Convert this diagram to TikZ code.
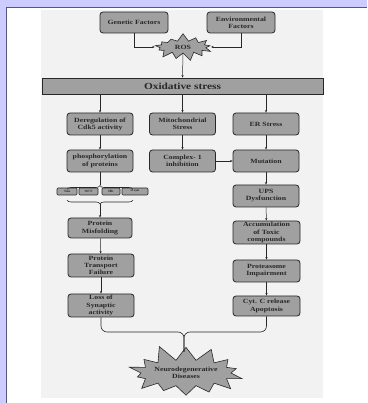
\documentclass[tikz,border=0pt]{standalone}
\usepackage{fontspec}
\setmainfont{Liberation Serif}
\newfontfamily\widefont{Liberation Serif}[FakeStretch=1.22]
\usepackage{tikz}
\usetikzlibrary{arrows.meta}
\usetikzlibrary{shapes.symbols}
\usetikzlibrary{decorations.pathreplacing}
\definecolor{framelilac}{RGB}{204,204,255}
\definecolor{frameline}{RGB}{85,85,125}
\definecolor{panelgrey}{RGB}{242,242,242}
\definecolor{boxgrey}{RGB}{160,160,160}
\definecolor{inkgrey}{RGB}{40,40,40}
\tikzstyle{greybox}=[draw=inkgrey,fill=boxgrey,line width=0.8pt,rounded corners=3pt,minimum width=66pt,minimum height=22pt,inner sep=0.5pt,align=center,text=inkgrey,font=\widefont\fontsize{6.4}{7.1}\selectfont\bfseries]
\tikzstyle{tinybox}=[draw=inkgrey,fill=boxgrey,line width=0.6pt,rounded corners=1pt,minimum height=7pt,inner sep=0.5pt,text=inkgrey,font=\widefont\fontsize{3.2}{3.2}\selectfont\bfseries]
\tikzstyle{burst}=[starburst,draw=inkgrey,fill=boxgrey,line width=0.6pt,inner sep=0pt,align=center,text=inkgrey,font=\widefont\fontsize{6.4}{7.1}\selectfont\bfseries]
\tikzstyle{flow}=[-{Stealth[length=2.5pt,width=2.2pt]},line width=0.5pt,draw=inkgrey]

\begin{document}
\begin{tikzpicture}[x=1pt,y=1pt]
	\useasboundingbox (0,0) rectangle (367,403);
	% frame and panel
	\fill[framelilac] (0,0) rectangle (367,403);
	\fill[white] (7,0) rectangle (367,395.5);
	\draw[frameline,line width=1pt] (6.5,0) -- (6.5,395.5) -- (367,395.5);
	\fill[panelgrey] (41,5) rectangle (323,393);
	% causes
	\node[greybox,minimum width=68pt,minimum height=21pt] (genetic) at (134,380.5) {Genetic Factors};
	\node[greybox,minimum width=68pt,minimum height=21pt] (environ) at (241,380.5) {Environmental\\Factors};
	\node[burst,minimum width=62pt,minimum height=28pt,starburst points=13,starburst point height=8pt,random starburst=7] (ros) at (183,356) {ROS};
	\node[draw=inkgrey,fill=boxgrey,line width=0.8pt,minimum width=281pt,minimum height=16pt,inner sep=0pt,text=inkgrey,font=\widefont\fontsize{9.3}{10}\selectfont\bfseries] (oxid) at (182.5,317) {Oxidative stress};
	% three pathways
	\node[greybox] (cdk) at (100,279) {Deregulation of\\Cdk5 activity};
	\node[greybox] (mito) at (182.5,279) {Mitochondrial\\Stress};
	\node[greybox] (er) at (266,279) {ER Stress};
	\node[greybox] (phos) at (100,242) {phosphorylation\\of proteins};
	\node[greybox] (complex) at (182.5,242) {Complex- 1\\inhibition};
	\node[greybox] (mutation) at (266,242) {Mutation};
	\node[greybox] (ups) at (266,207) {UPS\\Dysfunction};
	\node[tinybox,minimum width=20pt] (tau) at (67,211.5) {Tau};
	\node[tinybox,minimum width=19pt] (nft) at (88.5,211.5) {NFT};
	\node[tinybox,minimum width=18pt] (hb) at (111,211.5) {Hb};
	\node[tinybox,minimum width=26pt] (asyn) at (135,211.5) {α syn};
	\node[greybox,minimum width=64pt,minimum height=20pt] (misfold) at (100,175) {Protein\\Misfolding};
	\node[greybox,minimum height=23pt] (transport) at (101,137.5) {Protein\\Transport\\Failure};
	\node[greybox,minimum height=23pt] (synaptic) at (101,97.5) {Loss of\\Synaptic\\activity};
	\node[greybox,minimum width=67pt,minimum height=23pt] (toxic) at (266.5,170.5) {Accumulation\\of Toxic\\compounds};
	\node[greybox,minimum width=67pt] (proteasome) at (266.5,132) {Proteasome\\Impairment};
	\node[greybox,minimum width=67pt,minimum height=20pt] (cytc) at (266.5,97) {Cyt. C release\\Apoptosis};
	\node[burst,minimum width=124pt,minimum height=60pt,starburst points=14,starburst point height=17pt,random starburst=11] (neuro) at (186,30) {Neurodegenerative\\Diseases};
	% connectors
	\draw[flow,shorten >=3pt] (genetic.south) |- (ros.west);
	\draw[flow,shorten >=3pt] (environ.south) |- (ros.east);
	\draw[flow] (ros.south) -- (oxid.north);
	\draw[flow] (oxid.south -| cdk.north) -- (cdk.north);
	\draw[flow] (oxid.south -| mito.north) -- (mito.north);
	\draw[flow] (oxid.south -| er.north) -- (er.north);
	\draw[flow] (cdk) -- (phos);
	\draw[flow] (mito) -- (complex);
	\draw[flow] (er) -- (mutation);
	\draw[flow] (complex) -- (mutation);
	\draw[flow] (mutation) -- (ups);
	\draw[flow] (ups) -- (toxic);
	\draw[flow] (toxic) -- (proteasome);
	\draw[flow] (proteasome) -- (cytc);
	\draw[flow] (misfold) -- (transport);
	\draw[flow] (transport) -- (synaptic);
	% brackets round the protein row
	\coordinate (upperL) at (67,213.5);
	\coordinate (upperR) at (133,213.5);
	\coordinate (uppertip) at (100,217.5);
	\coordinate (lowerL) at (67,203);
	\coordinate (lowerR) at (133,203);
	\coordinate (lowertip) at (100,199);
	\draw[inkgrey,line width=0.6pt,decorate,decoration={brace,amplitude=4pt}] (upperL) -- (upperR);
	\draw[inkgrey,line width=0.6pt,decorate,decoration={brace,amplitude=4pt}] (lowerR) -- (lowerL);
	\draw[inkgrey,line width=0.5pt] (phos.south) -- (uppertip);
	\draw[flow] (lowertip) -- (misfold.north);
	% joining bracket
	\coordinate (cusp) at (184,71);
	\coordinate (neurotop) at (184,51);
	\draw[inkgrey,line width=0.6pt,rounded corners=6pt] (synaptic.south) |- (cusp) -- (neurotop);
	\draw[inkgrey,line width=0.6pt,rounded corners=6pt] (cytc.south) |- (cusp) -- (neurotop);
\end{tikzpicture}
\end{document}
